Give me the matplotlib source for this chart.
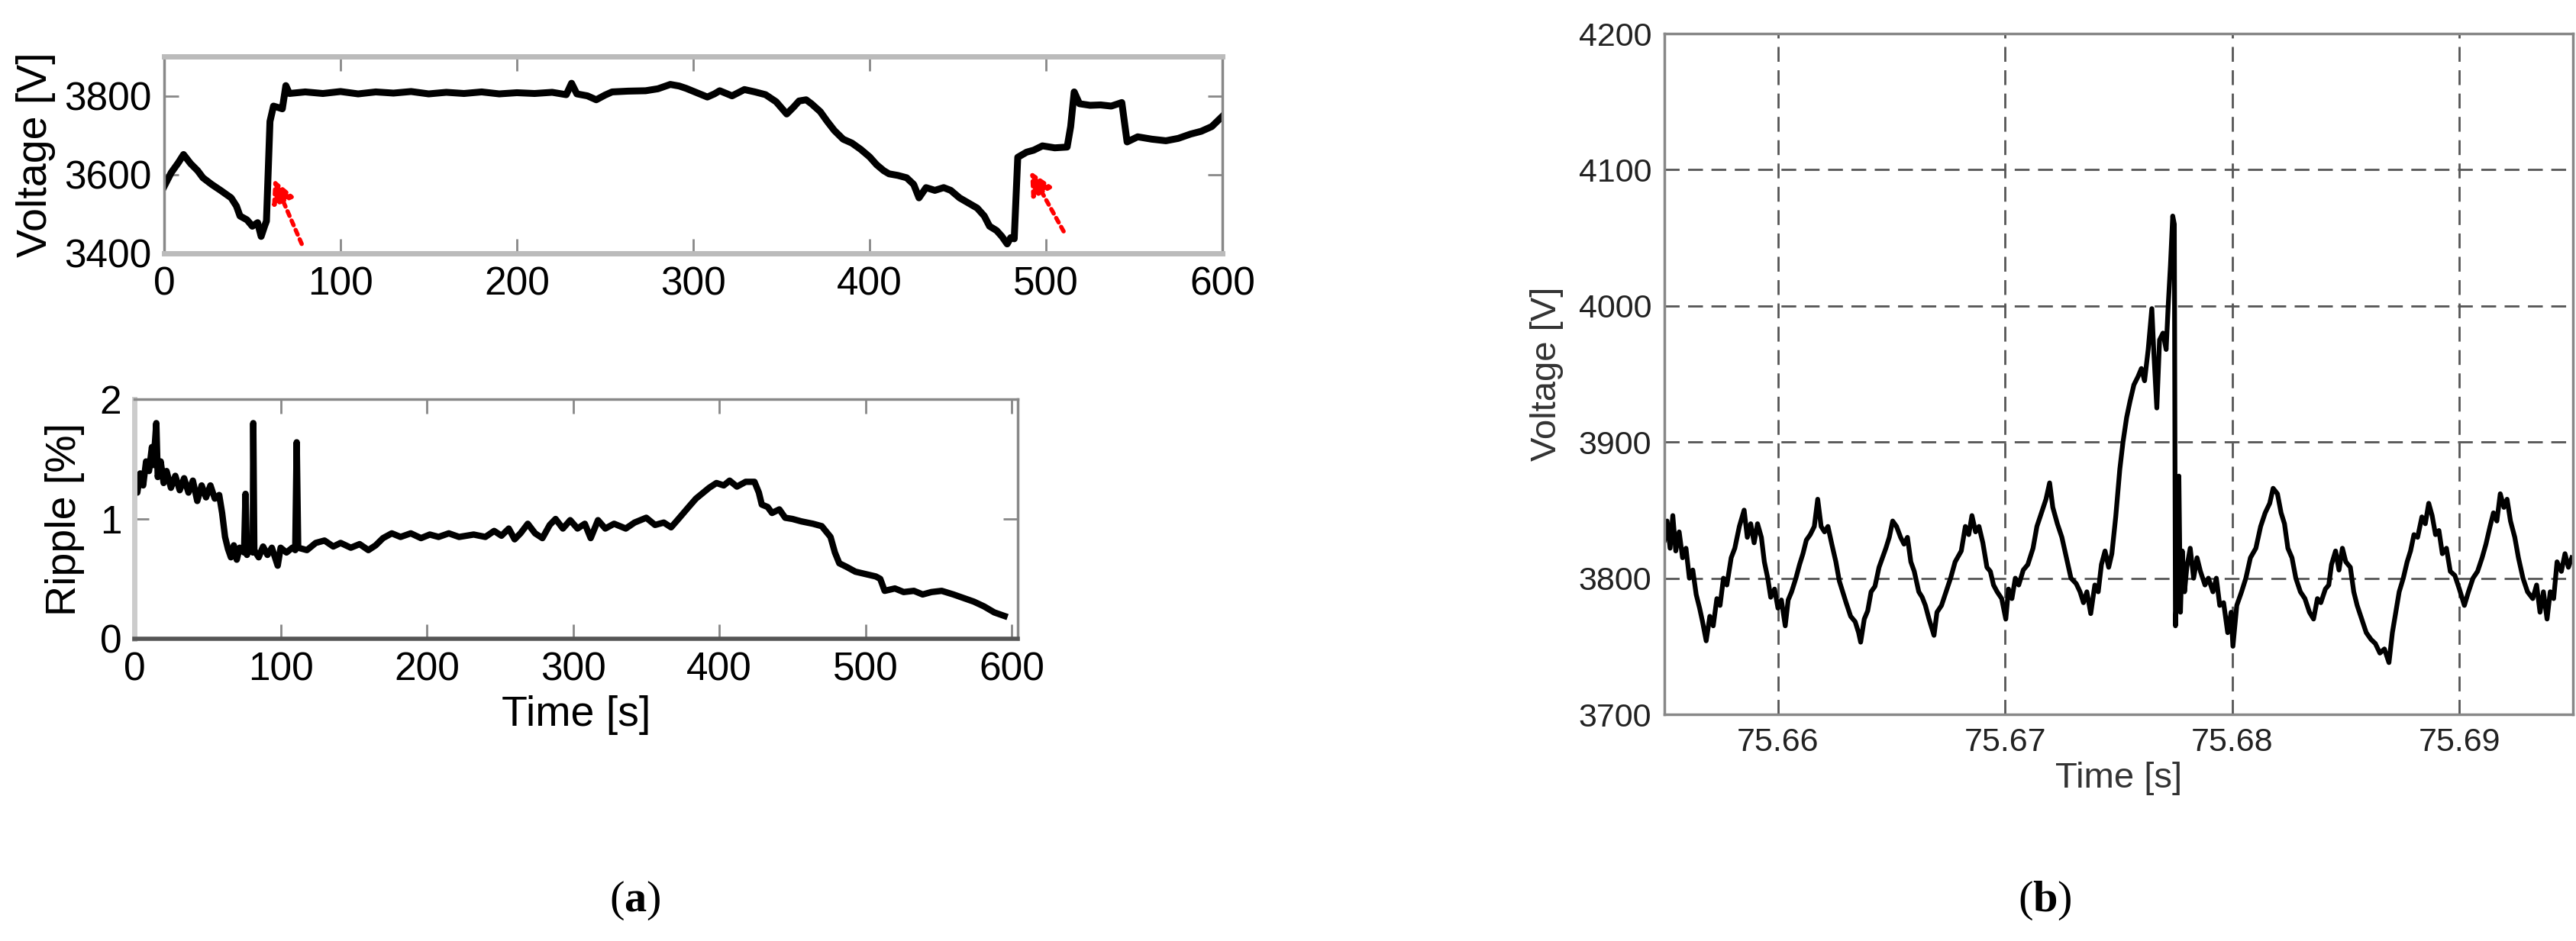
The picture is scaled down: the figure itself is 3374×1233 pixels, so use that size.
import matplotlib
matplotlib.use("Agg")
import matplotlib.pyplot as plt

plt.rcParams['font.family'] = ['Liberation Sans', 'DejaVu Sans']
plt.rcParams['mathtext.fontset'] = 'custom'
plt.rcParams['mathtext.rm'] = 'Liberation Serif'
plt.rcParams['mathtext.bf'] = 'Liberation Serif:bold'

# (a) top: DC-link voltage over the whole run
volt_t = [0, 4, 8, 11, 15, 19, 22, 27, 32, 38, 41, 43, 47, 50, 53, 55, 57, 58, 60, 62,
          65, 67, 69, 71, 80, 90, 100, 110, 120, 130, 140, 150, 160, 170, 180, 190, 200,
          210, 220, 228, 231, 234, 240, 245, 250, 254, 263, 273, 280, 287, 292, 296, 302,
          308, 312, 315, 322, 329, 335, 341, 347, 353, 357, 360, 364, 367, 372, 376, 380,
          385, 390, 395, 400, 404, 408, 411, 416, 421, 425, 428, 432, 437, 442, 446, 451,
          456, 461, 465, 468, 472, 475, 478, 480, 482, 484, 489, 493, 498, 505, 512, 514,
          516, 519, 525, 531, 537, 543, 546, 552, 560, 568, 575, 582, 588, 594, 600]
volt_v = [3570, 3605, 3630, 3651, 3628, 3610, 3592, 3575, 3560, 3541, 3520, 3495, 3485,
          3469, 3478, 3443, 3470, 3482, 3735, 3774, 3770, 3767, 3826, 3806, 3810, 3806,
          3811, 3805, 3810, 3807, 3811, 3805, 3809, 3806, 3810, 3805, 3808, 3806, 3809,
          3803, 3832, 3805, 3800, 3790, 3802, 3810, 3812, 3813, 3818, 3829, 3825, 3819,
          3808, 3797, 3805, 3813, 3800, 3816, 3810, 3803, 3785, 3754, 3772, 3787, 3790,
          3780, 3760, 3735, 3712, 3690, 3680, 3664, 3645, 3625, 3610, 3602, 3598, 3592,
          3575, 3541, 3567, 3560, 3567, 3560, 3541, 3528, 3515, 3495, 3469, 3458, 3443,
          3424, 3440, 3437, 3644, 3657, 3662, 3673, 3668, 3670, 3722, 3810, 3780, 3776,
          3777, 3774, 3783, 3683, 3696, 3690, 3686, 3692, 3703, 3710, 3722, 3748]

# (a) bottom: voltage ripple in percent
rip_t = [0, 2, 4, 6, 8, 10, 12, 13, 15, 16, 18, 20, 22, 25, 28, 31, 34, 37, 40, 43, 46,
         49, 52, 55, 58, 60, 62, 64, 66, 68, 70, 72, 75, 76, 77, 79, 81, 81.3, 82, 85, 88,
         91, 94, 98, 100, 104, 108, 110, 111, 112, 118, 124, 130, 136, 141, 148, 154, 160,
         165, 170, 176, 182, 189, 196, 202, 208, 215, 222, 232, 240, 246, 251, 256, 260,
         264, 269, 274, 279, 284, 288, 293, 298, 303, 308, 312, 317, 322, 328, 336, 342,
         350, 356, 362, 367, 372, 379, 384, 388, 393, 398, 403, 407, 412, 418, 424, 427,
         429, 433, 436, 441, 445, 450, 456, 464, 470, 476, 479, 482, 487, 493, 500, 507,
         510, 513, 520, 526, 533, 539, 545, 552, 560, 567, 574, 581, 588, 595]
rip_v = [1.30, 1.22, 1.38, 1.28, 1.48, 1.40, 1.60, 1.45, 1.80, 1.35, 1.48, 1.30, 1.40,
         1.26, 1.36, 1.24, 1.34, 1.22, 1.32, 1.15, 1.28, 1.18, 1.28, 1.17, 1.20, 1.05,
         0.85, 0.75, 0.68, 0.78, 0.66, 0.76, 0.72, 1.21, 0.70, 0.78, 0.72, 1.80, 0.74,
         0.68, 0.77, 0.70, 0.76, 0.61, 0.76, 0.72, 0.76, 0.74, 1.64, 0.76, 0.74, 0.80,
         0.82, 0.77, 0.80, 0.76, 0.79, 0.74, 0.78, 0.84, 0.88, 0.85, 0.88, 0.84, 0.87,
         0.85, 0.88, 0.85, 0.87, 0.85, 0.90, 0.86, 0.92, 0.83, 0.88, 0.96, 0.88, 0.84,
         0.95, 1.00, 0.92, 0.99, 0.92, 0.96, 0.84, 0.99, 0.92, 0.96, 0.92, 0.97, 1.01,
         0.95, 0.97, 0.93, 1.00, 1.10, 1.17, 1.21, 1.26, 1.30, 1.28, 1.32, 1.27, 1.31,
         1.31, 1.22, 1.12, 1.10, 1.05, 1.08, 1.01, 1.00, 0.98, 0.96, 0.94, 0.85, 0.72,
         0.63, 0.60, 0.56, 0.54, 0.52, 0.50, 0.40, 0.42, 0.39, 0.40, 0.37, 0.39, 0.40,
         0.37, 0.34, 0.31, 0.27, 0.22, 0.19]

# (b) zoom on the voltage transient
zoom_t = [75.65500, 75.65512, 75.65525, 75.65537, 75.65550, 75.65565, 75.65580, 75.65595,
          75.65610, 75.65625, 75.65640, 75.65655, 75.65668, 75.65684, 75.65700, 75.65715,
          75.65731, 75.65745, 75.65760, 75.65775, 75.65794, 75.65810, 75.65830, 75.65851,
          75.65865, 75.65880, 75.65895, 75.65910, 75.65927, 75.65940, 75.65955, 75.65968,
          75.65985, 75.66000, 75.66015, 75.66032, 75.66045, 75.66060, 75.66079, 75.66095,
          75.66110, 75.66125, 75.66142, 75.66160, 75.66175, 75.66190, 75.66205, 75.66220,
          75.66237, 75.66255, 75.66270, 75.66285, 75.66300, 75.66320, 75.66340, 75.66355,
          75.66364, 75.66380, 75.66395, 75.66410, 75.66427, 75.66445, 75.66460, 75.66475,
          75.66490, 75.66505, 75.66522, 75.66540, 75.66555, 75.66570, 75.66585, 75.66600,
          75.66620, 75.66635, 75.66649, 75.66665, 75.66687, 75.66700, 75.66720, 75.66744,
          75.66760, 75.66780, 75.66807, 75.66825, 75.66840, 75.66854, 75.66870, 75.66885,
          75.66902, 75.66920, 75.66935, 75.66949, 75.66965, 75.66985, 75.67003, 75.67015,
          75.67030, 75.67045, 75.67060, 75.67080, 75.67100, 75.67123, 75.67140, 75.67160,
          75.67180, 75.67196, 75.67210, 75.67230, 75.67250, 75.67270, 75.67290, 75.67313,
          75.67330, 75.67345, 75.67360, 75.67377, 75.67395, 75.67410, 75.67424, 75.67440,
          75.67456, 75.67470, 75.67487, 75.67505, 75.67519, 75.67535, 75.67550, 75.67567,
          75.67585, 75.67600, 75.67614, 75.67630, 75.67646, 75.67655, 75.67668, 75.67680,
          75.67695, 75.67709, 75.67718, 75.67728, 75.67738, 75.67745, 75.67750, 75.67758,
          75.67765, 75.67772, 75.67780, 75.67790, 75.67800, 75.67815, 75.67830, 75.67845,
          75.67860, 75.67880, 75.67895, 75.67915, 75.67930, 75.67945, 75.67962, 75.67980,
          75.67995, 75.68003, 75.68020, 75.68041, 75.68060, 75.68080, 75.68104, 75.68125,
          75.68145, 75.68165, 75.68180, 75.68199, 75.68215, 75.68230, 75.68245, 75.68263,
          75.68280, 75.68300, 75.68320, 75.68340, 75.68358, 75.68375, 75.68390, 75.68410,
          75.68425, 75.68437, 75.68455, 75.68470, 75.68485, 75.68500, 75.68520, 75.68535,
          75.68550, 75.68570, 75.68590, 75.68611, 75.68630, 75.68650, 75.68670, 75.68690,
          75.68705, 75.68720, 75.68735, 75.68753, 75.68770, 75.68785, 75.68800, 75.68816,
          75.68835, 75.68850, 75.68865, 75.68880, 75.68895, 75.68910, 75.68925, 75.68943,
          75.68960, 75.68980, 75.69000, 75.69022, 75.69040, 75.69060, 75.69080, 75.69100,
          75.69117, 75.69135, 75.69150, 75.69165, 75.69180, 75.69196, 75.69210, 75.69225,
          75.69244, 75.69260, 75.69280, 75.69300, 75.69323, 75.69340, 75.69355, 75.69370,
          75.69386, 75.69400, 75.69415, 75.69430, 75.69449, 75.69465, 75.69480, 75.69495]
zoom_v = [3828, 3842, 3822, 3846, 3820, 3834, 3815, 3822, 3800, 3806, 3788, 3778, 3768,
          3754, 3772, 3765, 3785, 3780, 3800, 3795, 3815, 3822, 3838, 3850, 3830, 3840,
          3826, 3840, 3830, 3812, 3800, 3786, 3792, 3778, 3784, 3765, 3784, 3790, 3800,
          3810, 3818, 3828, 3832, 3838, 3858, 3838, 3834, 3838, 3825, 3812, 3798, 3790,
          3782, 3772, 3768, 3760, 3753, 3770, 3776, 3790, 3794, 3808, 3815, 3822, 3830,
          3842, 3838, 3830, 3825, 3830, 3812, 3805, 3790, 3786, 3780, 3770, 3758, 3775,
          3780, 3792, 3800, 3812, 3820, 3838, 3832, 3846, 3834, 3838, 3826, 3808, 3805,
          3795, 3790, 3785, 3770, 3792, 3785, 3800, 3795, 3806, 3810, 3822, 3838, 3848,
          3858, 3870, 3852, 3840, 3830, 3815, 3800, 3796, 3790, 3782, 3790, 3774, 3795,
          3790, 3810, 3820, 3808, 3818, 3845, 3880, 3900, 3918, 3930, 3942, 3948, 3954,
          3945, 3968, 3998, 3965, 3925, 3975, 3980, 3968, 4000, 4030, 4066, 4060, 3765,
          3800, 3875, 3775, 3820, 3790, 3808, 3822, 3800, 3815, 3805, 3795, 3800, 3790,
          3800, 3780, 3782, 3760, 3775, 3750, 3780, 3790, 3800, 3815, 3822, 3838, 3848,
          3855, 3866, 3862, 3848, 3840, 3822, 3815, 3800, 3790, 3785, 3775, 3770, 3785,
          3782, 3792, 3795, 3810, 3820, 3806, 3822, 3812, 3808, 3790, 3780, 3770, 3760,
          3755, 3752, 3745, 3748, 3738, 3760, 3775, 3790, 3800, 3812, 3820, 3832, 3830,
          3845, 3840, 3855, 3846, 3832, 3835, 3818, 3822, 3805, 3802, 3792, 3780, 3790,
          3800, 3805, 3815, 3825, 3838, 3848, 3842, 3862, 3852, 3858, 3842, 3830, 3815,
          3800, 3790, 3785, 3795, 3775, 3790, 3770, 3790, 3785, 3812, 3805, 3818, 3808,
          3815]

W, H = 3374, 1233
fig = plt.figure(figsize=(W / 100, H / 100), dpi=100)


def box(x0, y0, x1, y1):
    return [x0 / W, 1 - y1 / H, (x1 - x0) / W, (y1 - y0) / H]


# ---- top left: voltage
ax1 = fig.add_axes(box(215, 74, 1601, 332))
ax1.plot(volt_t, volt_v, color='black', lw=6.5)
ax1.set_xlim(0, 600)
ax1.set_ylim(3400, 3900)
ax1.set_xticks([0, 100, 200, 300, 400, 500, 600])
ax1.set_yticks([3400, 3600, 3800])
ax1.set_ylabel('Voltage [V]', fontsize=40, labelpad=8)
ax1.tick_params(direction='in', length=14, width=2, color='#888888', labelsize=37,
                top=True, right=True, pad=12)
for s in ax1.spines.values():
    s.set_color('#888888')
    s.set_linewidth(2.5)
for s in ['top', 'bottom']:
    ax1.spines[s].set_color('#bbbbbb')
    ax1.spines[s].set_linewidth(5)

arrow = dict(arrowstyle='-|>', color='red', lw=4, linestyle=(0, (1.2, 1.2)),
             mutation_scale=45, shrinkA=0, shrinkB=0)
ax1.annotate('', xy=(62, 3589), xytext=(78, 3424), arrowprops=arrow)
ax1.annotate('', xy=(491, 3609), xytext=(510, 3456), arrowprops=arrow)

# ---- bottom left: ripple
ax2 = fig.add_axes(box(176, 523, 1333, 837))
ax2.plot(rip_t, rip_v, color='black', lw=6)
ax2.set_xlim(0, 604)
ax2.set_ylim(0, 2)
ax2.set_xticks([0, 100, 200, 300, 400, 500, 600])
ax2.set_yticks([0, 1, 2])
ax2.set_ylabel('Ripple [%]', fontsize=40, labelpad=14)
ax2.set_xlabel('Time [s]', fontsize=40, labelpad=6)
ax2.tick_params(direction='in', length=14, width=2, color='#888888', labelsize=37,
                top=True, right=True, pad=12)
for s in ax2.spines.values():
    s.set_color('#888888')
    s.set_linewidth(2.5)
ax2.spines['left'].set_color('#cccccc')
ax2.spines['left'].set_linewidth(5)
ax2.spines['bottom'].set_color('#555555')
ax2.spines['bottom'].set_linewidth(4)

# ---- right: zoom on transient
ax3 = fig.add_axes(box(2180, 44, 3370, 936))
ax3.plot(zoom_t, zoom_v, color='black', lw=4.5)
ax3.set_xlim(75.655, 75.695)
ax3.set_ylim(3700, 4200)
ax3.set_xticks([75.66, 75.67, 75.68, 75.69])
ax3.set_xticklabels(['75.66', '75.67', '75.68', '75.69'])
ax3.set_yticks([3700, 3800, 3900, 4000, 4100, 4200])
ax3.grid(True, color='#555555', lw=2, linestyle=(0, (7, 4)))
ax3.set_ylabel('Voltage [V]', fontsize=34, color='#333333', labelpad=14)
ax3.set_xlabel('Time [s]', fontsize=34, color='#333333', labelpad=4)
ax3.tick_params(length=0, labelsize=31, labelcolor='#222222', pad=12)
for s in ax3.spines.values():
    s.set_color('#888888')
    s.set_linewidth(2.5)

fig.text(832 / W, 1 - 1180 / H, r'($\mathbf{a}$)', fontsize=42, ha='center', va='center',
         family='Liberation Serif')
fig.text(2678 / W, 1 - 1180 / H, r'($\mathbf{b}$)', fontsize=42, ha='center', va='center',
         family='Liberation Serif')

fig.savefig('out.png', dpi=100)
